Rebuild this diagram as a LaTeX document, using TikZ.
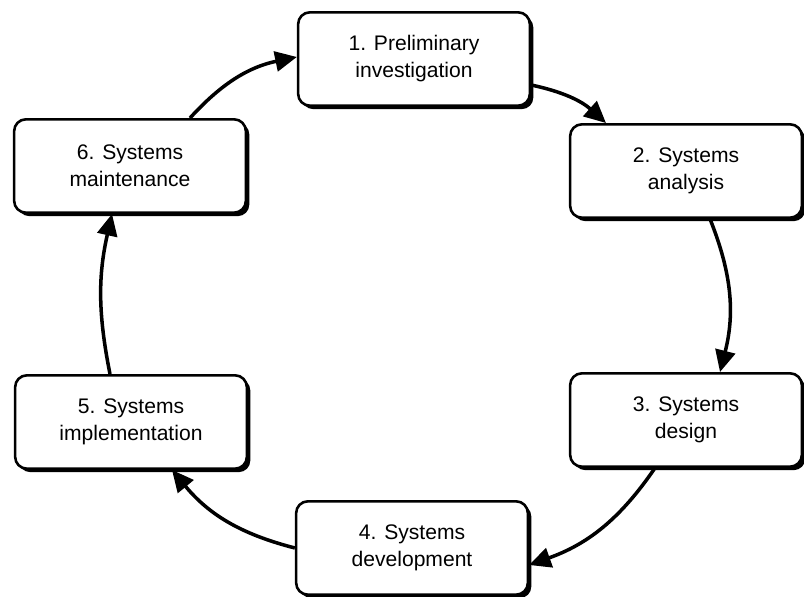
\documentclass[tikz,border=0pt]{standalone}
\usepackage{fontspec}
\setmainfont{Liberation Sans}
\usetikzlibrary{arrows.meta,shadows}
\begin{document}
\begin{tikzpicture}[x=0.03cm,y=0.03cm,
  stage/.style={draw=black, line width=2.2pt, rounded corners=10pt, fill=white,
    minimum width=6.95cm, minimum height=2.8cm, align=center,
    font=\fontsize{18}{23}\selectfont,
    drop shadow={shadow xshift=3pt, shadow yshift=-3pt, fill=black, opacity=1}},
  flow/.style={line width=3pt, -{Triangle[length=0.65cm,width=0.6cm]}}]
\useasboundingbox (0,0) rectangle (804,597);

% the six stages of the cycle
\node[stage] (b1) at (414,538) {1. Preliminary\\investigation};
\node[stage] (b2) at (686,426) {2. Systems\\analysis};
\node[stage] (b3) at (686,177) {3. Systems\\design};
\node[stage] (b4) at (412,49)  {4. Systems\\development};
\node[stage] (b5) at (131,175) {5. Systems\\implementation};
\node[stage] (b6) at (130,431) {6. Systems\\maintenance};

% clockwise connectors
\draw[flow] ([yshift=-0.78cm]b1.east) to[bend left=15] ([xshift=-2.4cm]b2.north);
\draw[flow] ([xshift=0.72cm]b2.south) to[bend left=18] ([xshift=1.02cm]b3.north);
\draw[flow] ([xshift=-0.93cm]b3.south) to[bend left=18] ([yshift=-0.51cm]b4.east);
\draw[flow] (b4.west) to[bend left=18] ([xshift=1.23cm]b5.south);
\draw[flow] ([xshift=-0.63cm]b5.north) to[bend left=12] ([xshift=-0.54cm]b6.south);
\draw[flow] ([xshift=1.8cm]b6.north) to[bend left=18] ([yshift=0.06cm]b1.west);
\end{tikzpicture}
\end{document}
